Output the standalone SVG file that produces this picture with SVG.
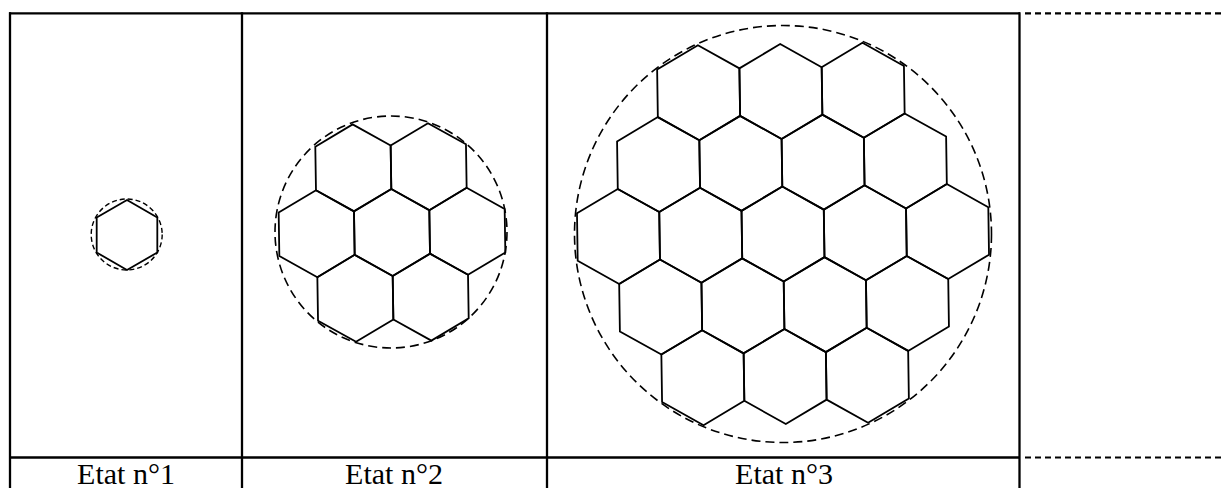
<svg xmlns="http://www.w3.org/2000/svg" xmlns:xlink="http://www.w3.org/1999/xlink" width="1224" height="488" viewBox="0 0 1224 488">
<style>
.tbl{stroke:#000;stroke-width:2.3;fill:none}
.tdash{stroke:#000;stroke-width:2.2;fill:none;stroke-dasharray:6 4}
.hex{stroke:#000;stroke-width:1.8;fill:none;stroke-linejoin:miter}
.circ{stroke:#000;stroke-width:1.6;fill:none;stroke-dasharray:9 5}
.circs{stroke:#000;stroke-width:1.4;fill:none;stroke-dasharray:5 3}
.lbl{font-family:"Liberation Serif","Times New Roman",serif;font-size:30px;fill:#000;text-anchor:middle}
</style>
<defs>
<polygon id="h1" points="0,-35 30.31,-17.5 30.31,17.5 0,35 -30.31,17.5 -30.31,-17.5"/>
<polygon id="h2" points="0,-43.5 37.67,-21.75 37.67,21.75 0,43.5 -37.67,21.75 -37.67,-21.75"/>
<polygon id="h3" points="0,-47.5 41.14,-23.75 41.14,23.75 0,47.5 -41.14,23.75 -41.14,-23.75"/>
</defs>
<g id="table">
<line class="tbl" x1="9" y1="13.3" x2="1020" y2="13.3"/>
<line class="tbl" x1="10" y1="457.5" x2="1020" y2="457.5"/>
<line class="tbl" x1="10" y1="12.2" x2="10" y2="488"/>
<line class="tbl" x1="242" y1="12.2" x2="242" y2="488"/>
<line class="tbl" x1="547" y1="12.2" x2="547" y2="488"/>
<line class="tbl" x1="1019.5" y1="12.2" x2="1019.5" y2="488"/>
<line class="tdash" x1="1025" y1="13.3" x2="1224" y2="13.3"/>
<line class="tdash" x1="1025" y1="457.5" x2="1224" y2="457.5"/>
</g>
<g id="state1">
<circle class="circs" cx="126.7" cy="234.5" r="35.5"/>
<use xlink:href="#h1" href="#h1" class="hex" x="127" y="235"/>
<text class="lbl" x="126" y="484">Etat n°1</text>
</g>
<g id="state2">
<circle class="circ" cx="391" cy="232" r="116"/>
<g class="hex" transform="translate(392,232.5) rotate(-0.9)">
<use xlink:href="#h2" href="#h2" x="-37.67" y="-65.25"/>
<use xlink:href="#h2" href="#h2" x="37.67" y="-65.25"/>
<use xlink:href="#h2" href="#h2" x="-75.34" y="0"/>
<use xlink:href="#h2" href="#h2" x="0" y="0"/>
<use xlink:href="#h2" href="#h2" x="75.34" y="0"/>
<use xlink:href="#h2" href="#h2" x="-37.67" y="65.25"/>
<use xlink:href="#h2" href="#h2" x="37.67" y="65.25"/>
</g>
<text class="lbl" x="394" y="484">Etat n°2</text>
</g>
<g id="state3">
<circle class="circ" cx="783" cy="234" r="208.5"/>
<g class="hex" transform="translate(783,234) rotate(-0.85)">
<use xlink:href="#h3" href="#h3" x="-82.27" y="-142.5"/>
<use xlink:href="#h3" href="#h3" x="0" y="-142.5"/>
<use xlink:href="#h3" href="#h3" x="82.27" y="-142.5"/>
<use xlink:href="#h3" href="#h3" x="-123.4" y="-71.25"/>
<use xlink:href="#h3" href="#h3" x="-41.14" y="-71.25"/>
<use xlink:href="#h3" href="#h3" x="41.14" y="-71.25"/>
<use xlink:href="#h3" href="#h3" x="123.4" y="-71.25"/>
<use xlink:href="#h3" href="#h3" x="-164.54" y="0"/>
<use xlink:href="#h3" href="#h3" x="-82.27" y="0"/>
<use xlink:href="#h3" href="#h3" x="0" y="0"/>
<use xlink:href="#h3" href="#h3" x="82.27" y="0"/>
<use xlink:href="#h3" href="#h3" x="164.54" y="0"/>
<use xlink:href="#h3" href="#h3" x="-123.4" y="71.25"/>
<use xlink:href="#h3" href="#h3" x="-41.14" y="71.25"/>
<use xlink:href="#h3" href="#h3" x="41.14" y="71.25"/>
<use xlink:href="#h3" href="#h3" x="123.4" y="71.25"/>
<use xlink:href="#h3" href="#h3" x="-82.27" y="142.5"/>
<use xlink:href="#h3" href="#h3" x="0" y="142.5"/>
<use xlink:href="#h3" href="#h3" x="82.27" y="142.5"/>
</g>
<text class="lbl" x="784" y="484">Etat n°3</text>
</g>
</svg>
